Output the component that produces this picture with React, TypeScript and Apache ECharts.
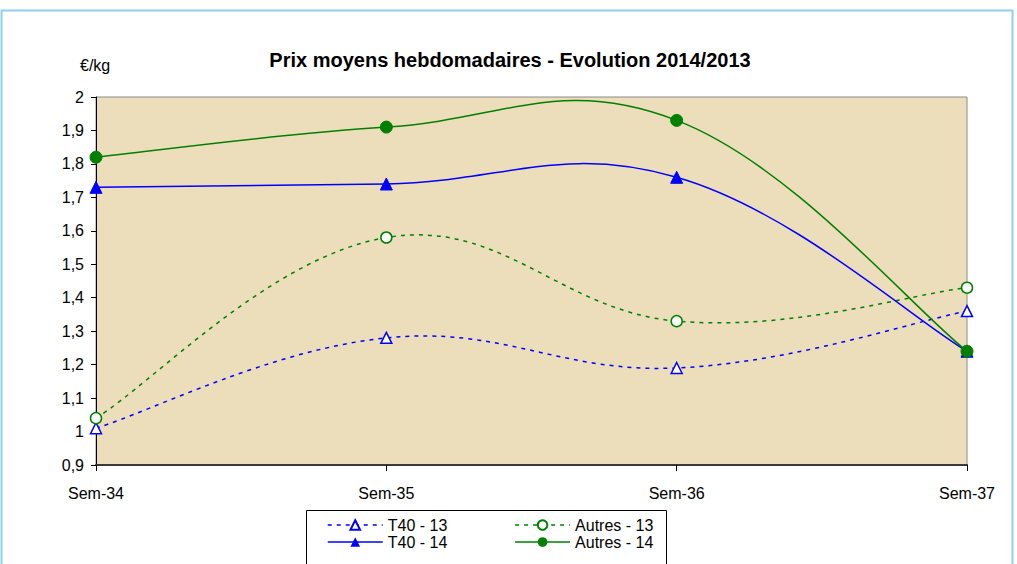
import React, { useEffect, useRef } from "react";
import * as echarts from "echarts";

const categories = ["Sem-34", "Sem-35", "Sem-36", "Sem-37"];
const t40_13 = [1.01, 1.28, 1.19, 1.36];
const autres_13 = [1.04, 1.58, 1.33, 1.43];
const t40_14 = [1.73, 1.74, 1.76, 1.24];
const autres_14 = [1.82, 1.91, 1.93, 1.24];

const BLUE = "#0000ff";
const GREEN = "#008000";
const FONT = "Liberation Sans, Arial, sans-serif";
const TENSION = 0.2;
const DASH = [4, 5];

function curveSeries(name: string, values: number[], color: string, dashed: boolean) {
  return {
    name: name + " (courbe)",
    type: "custom",
    data: values.map((v, i) => [i, v]),
    encode: { x: 0, y: 1 },
    z: 2,
    silent: true,
    renderItem: (params: any, api: any) => {
      if (params.dataIndex !== 0) return null;
      const pts = values.map((v, i) => api.coord([i, v]));
      const n = pts.length;
      let d = `M${pts[0][0]},${pts[0][1]}`;
      for (let i = 0; i < n - 1; i++) {
        const p0 = pts[Math.max(i - 1, 0)];
        const p1 = pts[i];
        const p2 = pts[i + 1];
        const p3 = pts[Math.min(i + 2, n - 1)];
        const c1x = p1[0] + (p2[0] - p0[0]) * TENSION;
        const c1y = p1[1] + (p2[1] - p0[1]) * TENSION;
        const c2x = p2[0] - (p3[0] - p1[0]) * TENSION;
        const c2y = p2[1] - (p3[1] - p1[1]) * TENSION;
        d += ` C${c1x},${c1y} ${c2x},${c2y} ${p2[0]},${p2[1]}`;
      }
      return {
        type: "path",
        shape: { pathData: d },
        style: {
          fill: "none",
          stroke: color,
          lineWidth: 1.5,
          lineDash: dashed ? DASH : null,
        },
      };
    },
  };
}

export default function App() {
  const ref = useRef<HTMLDivElement>(null);
  useEffect(() => {
    if (!ref.current) return;
    const chart = echarts.init(ref.current, null, { renderer: "svg" });
    const legendText = { fontFamily: FONT, fontSize: 16, color: "#000" };
    const legendItem = (name: string, color: string, dashed: boolean) => ({
      name,
      lineStyle: { color, width: 1.5, type: dashed ? DASH : "solid", opacity: 1 },
    });
    chart.setOption({
      animation: false,
      backgroundColor: "#ffffff",
      textStyle: { fontFamily: FONT },
      title: {
        text: "Prix moyens hebdomadaires - Evolution 2014/2013",
        left: 505,
        textAlign: "center",
        top: 45,
        textStyle: { fontFamily: FONT, fontSize: 20, fontWeight: "bold", color: "#000" },
      },
      graphic: [
        {
          type: "rect",
          shape: { x: 1.5, y: 10.5, width: 1011, height: 600 },
          style: { fill: "none", stroke: "#8fd0ee", lineWidth: 2 },
          silent: true,
          z: 0,
        },
        {
          type: "text",
          x: 80,
          y: 57,
          style: { text: "€/kg", font: `16px ${FONT}`, fill: "#000" },
        },
        {
          type: "rect",
          shape: { x: 306.5, y: 510.5, width: 360, height: 60 },
          style: { fill: "#fff", stroke: "#000", lineWidth: 1 },
          z: 1,
        },
      ],
      grid: {
        left: 96,
        right: 50,
        top: 97,
        bottom: 99,
        show: true,
        backgroundColor: "#eddebb",
        borderColor: "#8a8a8a",
        borderWidth: 1,
      },
      xAxis: {
        type: "category",
        data: categories,
        boundaryGap: false,
        axisLine: { lineStyle: { color: "#3a3a3a", width: 2 } },
        axisTick: { show: true, length: 6, lineStyle: { color: "#000" } },
        axisLabel: { fontFamily: FONT, fontSize: 16, color: "#000", margin: 20 },
        splitLine: { show: false },
      },
      yAxis: {
        type: "value",
        min: 0.9,
        max: 2,
        interval: 0.1,
        axisLine: { show: true, lineStyle: { color: "#000", width: 1 } },
        axisTick: { show: true, length: 5, lineStyle: { color: "#000" } },
        axisLabel: {
          fontFamily: FONT,
          fontSize: 16,
          color: "#000",
          margin: 12,
          formatter: (v: number) => {
            const r = Math.round(v * 10) / 10;
            return String(r).replace(".", ",");
          },
        },
        splitLine: { show: false },
      },
      legend: [
        {
          data: [legendItem("T40 - 13", BLUE, true), legendItem("Autres - 13", GREEN, true)],
          left: 327,
          top: 517,
          itemWidth: 55,
          itemHeight: 12,
          itemGap: 67,
          padding: 0,
          textStyle: legendText,
          z: 5,
        },
        {
          data: [legendItem("T40 - 14", BLUE, false), legendItem("Autres - 14", GREEN, false)],
          left: 327,
          top: 534,
          itemWidth: 55,
          itemHeight: 12,
          itemGap: 67,
          padding: 0,
          textStyle: legendText,
          z: 5,
        },
      ],
      series: [
        curveSeries("T40 - 13", t40_13, BLUE, true),
        curveSeries("Autres - 13", autres_13, GREEN, true),
        curveSeries("T40 - 14", t40_14, BLUE, false),
        curveSeries("Autres - 14", autres_14, GREEN, false),
        {
          name: "T40 - 13",
          type: "line",
          data: t40_13,
          z: 3,
          symbol: "triangle",
          symbolSize: 11,
          lineStyle: { color: BLUE, width: 1.5, type: DASH, opacity: 0 },
          itemStyle: { color: "#ffffff", borderColor: BLUE, borderWidth: 1.5 },
        },
        {
          name: "Autres - 13",
          type: "line",
          data: autres_13,
          z: 3,
          symbol: "circle",
          symbolSize: 11,
          lineStyle: { color: GREEN, width: 1.5, type: DASH, opacity: 0 },
          itemStyle: { color: "#ffffff", borderColor: GREEN, borderWidth: 1.5 },
        },
        {
          name: "T40 - 14",
          type: "line",
          data: t40_14,
          z: 3,
          symbol: "triangle",
          symbolSize: 12,
          lineStyle: { color: BLUE, width: 1.5, opacity: 0 },
          itemStyle: { color: BLUE, borderColor: BLUE },
        },
        {
          name: "Autres - 14",
          type: "line",
          data: autres_14,
          z: 3,
          symbol: "circle",
          symbolSize: 12,
          lineStyle: { color: GREEN, width: 1.5, opacity: 0 },
          itemStyle: { color: GREEN, borderColor: GREEN },
        },
      ],
    });
    return () => chart.dispose();
  }, []);
  return <div ref={ref} style={{ width: 1017, height: 564, position: "absolute", left: 0, top: 0 }} />;
}
